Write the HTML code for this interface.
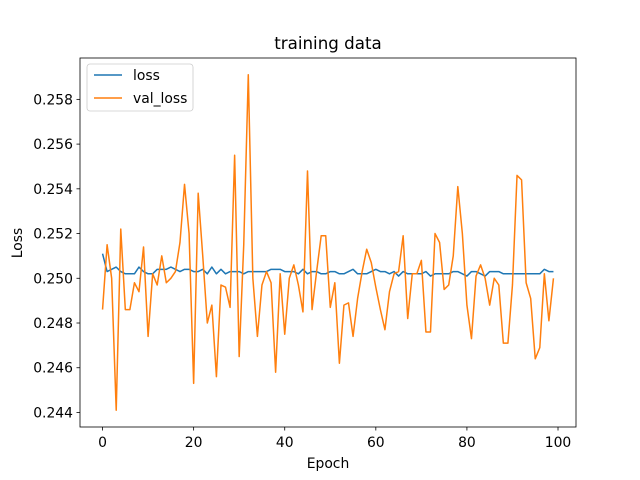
<!DOCTYPE html>
<html><head><meta charset="utf-8"><style>
body{margin:0;background:#fff;}
svg{display:block;font-family:"DejaVu Sans","Liberation Sans",sans-serif;}
</style></head><body>
<svg id="chart" width="640" height="480" xmlns="http://www.w3.org/2000/svg">
<rect width="640" height="480" fill="#fff"/>
<text x="328" y="49" text-anchor="middle" font-size="16.7">training data</text>
<g id="grid"></g>
<g id="series"></g>
<rect x="80" y="58" width="496" height="369" fill="none" stroke="#000" stroke-width="0.8"/>
<g id="ticks"></g>
<text x="328" y="468" text-anchor="middle" font-size="13.9">Epoch</text>
<text transform="translate(22,243) rotate(-90)" text-anchor="middle" font-size="13.9">Loss</text>
<g>
<rect x="87" y="64" width="106" height="47" rx="3" fill="#fff" fill-opacity="0.8" stroke="#ccc" stroke-width="0.8"/>
<line x1="94" y1="75" x2="122" y2="75" stroke="#1f77b4" stroke-width="1.5"/>
<text x="133" y="80" font-size="13.9">loss</text>
<line x1="94" y1="98" x2="122" y2="98" stroke="#ff7f0e" stroke-width="1.5"/>
<text x="133" y="103" font-size="13.9">val_loss</text>
</g>
</svg>
<script>
const xTicks=[0,20,40,60,80,100];
const yTicks=[0.244,0.246,0.248,0.250,0.252,0.254,0.256,0.258];
const loss=[0.2511,0.2503,0.2504,0.2505,0.2503,0.2502,0.2502,0.2502,0.2505,0.2503,0.2502,0.2502,0.2504,0.2504,0.2504,0.2505,0.2504,0.2503,0.2504,0.2504,0.2503,0.2503,0.2504,0.2502,0.2505,0.2502,0.2504,0.2502,0.2503,0.2503,0.2503,0.2502,0.2503,0.2503,0.2503,0.2503,0.2503,0.2504,0.2504,0.2504,0.2503,0.2503,0.2503,0.2502,0.2504,0.2502,0.2503,0.2503,0.2502,0.2502,0.2503,0.2503,0.2502,0.2502,0.2503,0.2504,0.2502,0.2502,0.2502,0.2503,0.2504,0.2503,0.2503,0.2502,0.2503,0.2501,0.2503,0.2502,0.2502,0.2502,0.2502,0.2503,0.2501,0.2502,0.2502,0.2502,0.2502,0.2503,0.2503,0.2502,0.2501,0.2503,0.2503,0.2502,0.2501,0.2503,0.2503,0.2503,0.2502,0.2502,0.2502,0.2502,0.2502,0.2502,0.2502,0.2502,0.2502,0.2504,0.2503,0.2503];
const valLoss=[0.2486,0.2515,0.2500,0.2441,0.2522,0.2486,0.2486,0.2498,0.2494,0.2514,0.2474,0.2502,0.2497,0.2510,0.2498,0.2500,0.2503,0.2516,0.2542,0.2520,0.2453,0.2538,0.2510,0.2480,0.2488,0.2456,0.2497,0.2496,0.2487,0.2555,0.2465,0.2515,0.2591,0.2500,0.2474,0.2497,0.2503,0.2498,0.2458,0.2502,0.2475,0.2500,0.2506,0.2497,0.2485,0.2548,0.2486,0.2503,0.2519,0.2519,0.2487,0.2498,0.2462,0.2488,0.2489,0.2474,0.2491,0.2503,0.2513,0.2507,0.2496,0.2486,0.2477,0.2494,0.2502,0.2503,0.2519,0.2482,0.2502,0.2502,0.2508,0.2476,0.2476,0.2520,0.2516,0.2495,0.2497,0.2510,0.2541,0.2520,0.2488,0.2473,0.2501,0.2506,0.2500,0.2488,0.2500,0.2497,0.2471,0.2471,0.2497,0.2546,0.2544,0.2498,0.2491,0.2464,0.2469,0.2502,0.2481,0.2500];
const NS="http://www.w3.org/2000/svg";
const L=80,R=576,T=58,B=427;
const n=valLoss.length;
const xMin=-0.05*(n-1),xMax=(n-1)*1.05;
const all=loss.concat(valLoss);
const dMin=Math.min(...all),dMax=Math.max(...all),pad=(dMax-dMin)*0.05;
const yMin=dMin-pad,yMax=dMax+pad;
function sx(v){return L+(v-xMin)/(xMax-xMin)*(R-L);}
function sy(v){return B-(v-yMin)/(yMax-yMin)*(B-T);}
function mk(tag,attrs,parent){const e=document.createElementNS(NS,tag);for(const k in attrs)e.setAttribute(k,attrs[k]);parent.appendChild(e);return e;}
const tg=document.getElementById('ticks');
xTicks.forEach(t=>{const x=sx(t);
 const l=mk('line',{x1:x,y1:B,x2:x,y2:B+3.5,stroke:'#000','stroke-width':0.8},tg);
 
 
 const tx=mk('text',{x:x,y:B+20,'text-anchor':'middle','font-size':13.9},tg);tx.textContent=t;
 
 
});
yTicks.forEach(t=>{const y=sy(t);
 const l=mk('line',{x1:L-3.5,y1:y,x2:L,y2:y,stroke:'#000','stroke-width':0.8},tg);
 
 
 const tx=mk('text',{x:L-7,y:y+5,'text-anchor':'end','font-size':13.9},tg);tx.textContent=t.toFixed(3);
 
 
});
const sg=document.getElementById('series');
function line(arr,color,name){
 const pts=arr.map((v,i)=>sx(i).toFixed(2)+','+sy(v).toFixed(2)).join(' ');
 const p=mk('polyline',{points:pts,fill:'none',stroke:color,'stroke-width':1.5,'stroke-linejoin':'round'},sg);
 
 
}
line(loss,'#1f77b4','loss-line');
line(valLoss,'#ff7f0e','val-loss-line');
</script>
</body></html>
